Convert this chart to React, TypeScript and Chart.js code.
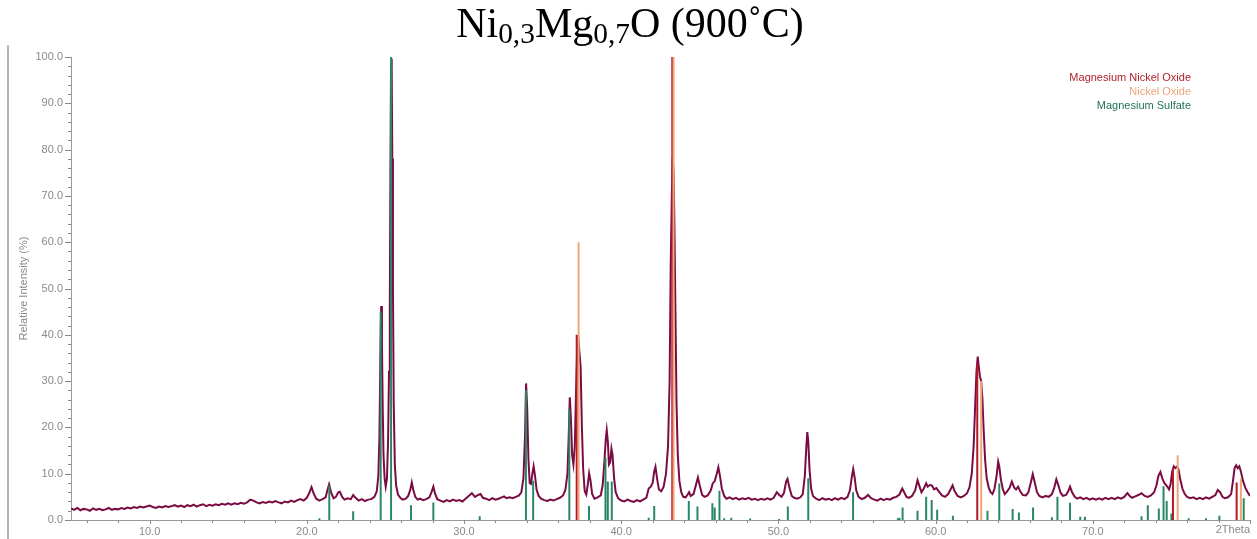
import React, { useEffect, useRef } from "react";
import { Chart, registerables } from "chart.js";

Chart.register(...registerables);

// Measured diffraction trace (2Theta, relative intensity %)
const trace1: [number, number][] = [
  [5.0, 2.5], [5.2, 2.2], [5.4, 2.6], [5.6, 2.1], [5.8, 2.4], [6.0, 2.3], [6.2, 2.0], [6.4, 2.5], [6.6, 2.2], [6.8, 2.4],
  [7.0, 2.1], [7.2, 2.3], [7.4, 2.6], [7.6, 2.2], [7.8, 2.4], [8.0, 2.3], [8.2, 2.6], [8.4, 2.4], [8.6, 2.7], [8.8, 2.5],
  [9.0, 2.8], [9.2, 2.6], [9.4, 2.9], [9.6, 2.7], [9.8, 2.9], [10.0, 3.1], [10.2, 2.8], [10.4, 2.6], [10.6, 2.9], [10.8, 2.7],
  [11.0, 3.0], [11.2, 2.8], [11.4, 3.0], [11.6, 3.2], [11.8, 2.9], [12.0, 3.1], [12.2, 2.8], [12.4, 3.2], [12.6, 3.0], [12.8, 3.3],
  [13.0, 2.9], [13.2, 3.2], [13.4, 3.4], [13.6, 3.0], [13.8, 3.3], [14.0, 3.1], [14.2, 3.4], [14.4, 3.2], [14.6, 3.5], [14.8, 3.3],
  [15.0, 3.6], [15.2, 3.3], [15.4, 3.6], [15.6, 3.4], [15.8, 3.7], [16.0, 3.5], [16.2, 3.8], [16.4, 4.4], [16.6, 4.2], [16.8, 3.8],
  [17.0, 3.6], [17.2, 3.9], [17.4, 3.7], [17.6, 4.0], [17.8, 3.8], [18.0, 4.1], [18.2, 3.8], [18.4, 3.6], [18.6, 4.0], [18.8, 3.8],
  [19.0, 4.2], [19.2, 3.9], [19.4, 4.3], [19.6, 4.5], [19.8, 4.2], [20.0, 4.8], [20.15, 5.8], [20.3, 7.1], [20.45, 5.6], [20.6, 4.6],
  [20.8, 4.2], [21.0, 4.5], [21.2, 4.9], [21.3, 6.3], [21.42, 7.7], [21.55, 5.9], [21.7, 4.7], [21.85, 5.0], [22.0, 6.0], [22.1, 6.1],
  [22.25, 5.0], [22.4, 4.4], [22.6, 4.7], [22.8, 4.5], [22.95, 5.4], [23.1, 4.8], [23.3, 4.2], [23.5, 4.5], [23.7, 4.1], [23.9, 4.4],
  [24.1, 4.5], [24.3, 5.0], [24.45, 6.2], [24.55, 9.5], [24.62, 18], [24.68, 35], [24.73, 46.2], [24.78, 38], [24.83, 24], [24.88, 14],
  [24.95, 9], [25.02, 7.2], [25.1, 9], [25.17, 17], [25.23, 32], [25.28, 45], [25.32, 75], [25.36, 99.6], [25.4, 97], [25.44, 78],
  [25.48, 50], [25.53, 25], [25.6, 12], [25.68, 7.5], [25.8, 5.5], [25.95, 4.8], [26.1, 4.4], [26.3, 4.6], [26.45, 5.2], [26.58, 6.5],
  [26.68, 8.1], [26.78, 6.4], [26.9, 5.0], [27.05, 4.4], [27.2, 4.6], [27.4, 4.3], [27.6, 4.5], [27.8, 4.9], [27.95, 6.2], [28.05, 7.2],
  [28.15, 5.8], [28.3, 4.5], [28.5, 4.2], [28.7, 3.9], [28.9, 4.3], [29.1, 4.0], [29.3, 4.4], [29.5, 4.1], [29.7, 4.3], [29.9, 4.0],
];

const trace2: [number, number][] = [
  [30.1, 4.6], [30.3, 5.2], [30.5, 5.8], [30.7, 5.0], [30.9, 5.4], [31.05, 5.6], [31.2, 4.8], [31.4, 4.6], [31.6, 4.3], [31.8, 4.7],
  [32.0, 4.4], [32.2, 4.6], [32.4, 4.9], [32.55, 5.1], [32.7, 4.7], [32.9, 4.9], [33.1, 4.7], [33.3, 5.0], [33.5, 5.3], [33.65, 6.0],
  [33.78, 9], [33.88, 18], [33.95, 29.5], [34.02, 24], [34.1, 13], [34.18, 8], [34.26, 7.8], [34.35, 10], [34.43, 11.6], [34.52, 9.5],
  [34.62, 6.5], [34.75, 5.2], [34.9, 4.6], [35.1, 4.3], [35.3, 4.1], [35.5, 4.4], [35.7, 4.2], [35.9, 4.5], [36.1, 4.8], [36.3, 5.3],
  [36.45, 6.5], [36.58, 10], [36.66, 18], [36.73, 26.5], [36.8, 22], [36.88, 14], [36.96, 12], [37.05, 16], [37.13, 28], [37.2, 37],
  [37.25, 40], [37.3, 38], [37.36, 35.5], [37.42, 33], [37.5, 20], [37.58, 11], [37.68, 6.2], [37.78, 5.5], [37.88, 7.8], [37.96, 10.1],
  [38.05, 8.5], [38.15, 5.6], [38.3, 4.6], [38.5, 4.9], [38.7, 5.3], [38.82, 7.5], [38.92, 12], [39.02, 17.5], [39.08, 19.4], [39.15, 17],
  [39.22, 12], [39.3, 12.5], [39.38, 15.4], [39.45, 14], [39.55, 9], [39.65, 6], [39.8, 4.7], [40.0, 4.2], [40.2, 4.0], [40.4, 4.4],
  [40.6, 4.1], [40.8, 3.9], [41.0, 4.3], [41.2, 4.0], [41.4, 4.4], [41.6, 4.8], [41.75, 6.8], [41.88, 7.2], [42.0, 8.0], [42.1, 10.5],
  [42.18, 11.5], [42.28, 9], [42.4, 6.6], [42.55, 6.2], [42.7, 7.2], [42.85, 10], [42.98, 16], [43.08, 30], [43.15, 55], [43.22, 70],
  [43.28, 78.4], [43.33, 75], [43.38, 65], [43.45, 45], [43.52, 25], [43.6, 14], [43.7, 8.5], [43.82, 6.0], [43.95, 5.0], [44.1, 4.9],
  [44.25, 5.6], [44.32, 6.0], [44.42, 5.2], [44.6, 5.6], [44.75, 7.5], [44.88, 9.2], [45.0, 7.4], [45.15, 5.4], [45.3, 5.0], [45.5, 5.3],
  [45.7, 6.4], [45.82, 7.9], [45.95, 8.4], [46.08, 10.0], [46.18, 11.4], [46.28, 9.6], [46.4, 6.8], [46.55, 5.2], [46.7, 4.6], [46.9, 4.9],
  [47.1, 4.5], [47.3, 4.8], [47.5, 4.4], [47.7, 4.7], [47.9, 4.5], [48.1, 4.8], [48.3, 4.4], [48.5, 4.6], [48.7, 4.3], [48.9, 4.6],
  [49.1, 4.4], [49.3, 4.7], [49.5, 4.4], [49.7, 4.8], [49.9, 6.0], [50.05, 5.4], [50.2, 5.0], [50.35, 5.8], [50.5, 8.4], [50.58, 8.9],
  [50.7, 7.0], [50.85, 5.2], [51.0, 4.8], [51.2, 4.6], [51.4, 4.9], [51.55, 5.6], [51.68, 9.5], [51.78, 16], [51.84, 19.0], [51.9, 17],
  [51.98, 11], [52.08, 6.8], [52.2, 5.2], [52.4, 4.6], [52.6, 4.3], [52.8, 4.7], [53.0, 4.4], [53.2, 4.6], [53.4, 4.3], [53.6, 4.7],
  [53.8, 4.4], [54.0, 4.8], [54.2, 4.5], [54.4, 5.0], [54.55, 6.4], [54.68, 9.5], [54.76, 11.0], [54.85, 9.2], [54.95, 6.4],
];

const trace3: [number, number][] = [
  [55.1, 5.0], [55.3, 4.5], [55.5, 4.8], [55.7, 5.4], [55.9, 4.7], [56.1, 4.4], [56.3, 4.2], [56.5, 4.6], [56.7, 4.3], [56.9, 4.6],
  [57.1, 4.4], [57.3, 4.8], [57.5, 5.0], [57.7, 5.5], [57.88, 6.8], [58.0, 6.0], [58.15, 5.0], [58.3, 4.8], [58.5, 5.2], [58.7, 6.4],
  [58.85, 8.6], [58.98, 7.2], [59.1, 6.0], [59.25, 6.8], [59.4, 7.9], [59.5, 7.2], [59.65, 7.6], [59.78, 7.4], [59.9, 6.6], [60.05, 6.9],
  [60.2, 6.2], [60.4, 5.3], [60.6, 5.0], [60.8, 5.6], [60.95, 6.6], [61.08, 7.5], [61.2, 6.3], [61.4, 5.2], [61.6, 4.9], [61.8, 5.2],
  [62.0, 5.8], [62.15, 7.0], [62.3, 10], [62.42, 16], [62.52, 25], [62.6, 32], [62.68, 35.3], [62.75, 33], [62.82, 31], [62.9, 30],
  [62.98, 26], [63.05, 20], [63.15, 13], [63.25, 9], [63.38, 7], [63.5, 6.0], [63.62, 5.6], [63.75, 6.8], [63.88, 9.5], [63.98, 12.6],
  [64.05, 11.6], [64.15, 8.8], [64.28, 6.6], [64.4, 5.6], [64.55, 6.2], [64.7, 6.9], [64.85, 8.3], [65.0, 7.0], [65.12, 6.6], [65.25, 7.2],
  [65.38, 6.2], [65.55, 5.4], [65.75, 5.3], [65.9, 6.0], [66.05, 8.0], [66.18, 9.9], [66.3, 8.2], [66.45, 6.0], [66.6, 5.2], [66.8, 4.9],
  [67.0, 5.2], [67.2, 5.0], [67.4, 5.6], [67.55, 7.0], [67.68, 8.8], [67.8, 7.6], [67.95, 5.9], [68.1, 5.2], [68.3, 5.4], [68.45, 6.3],
  [68.55, 7.2], [68.68, 6.0], [68.85, 5.0], [69.0, 4.6], [69.2, 4.9], [69.4, 4.5], [69.6, 4.8], [69.8, 4.4], [70.0, 4.7], [70.2, 4.4],
  [70.4, 4.7], [70.6, 4.4], [70.8, 4.8], [71.0, 4.5], [71.2, 4.8], [71.4, 4.5], [71.6, 4.9], [71.8, 4.6], [72.0, 5.0], [72.2, 5.8],
  [72.35, 5.2], [72.5, 4.8], [72.7, 5.1], [72.9, 5.4], [73.1, 5.8], [73.3, 5.2], [73.5, 5.0], [73.7, 5.3], [73.9, 6.0], [74.05, 7.5],
  [74.18, 9.6], [74.3, 10.4], [74.42, 9.0], [74.55, 8.0], [74.7, 7.4], [74.85, 6.6], [74.95, 7.8], [75.05, 10.5], [75.15, 11.6], [75.25, 11.2],
  [75.35, 11.5], [75.45, 11.0], [75.55, 9], [75.7, 6.8], [75.85, 5.6], [76.0, 5.0], [76.2, 4.7], [76.4, 4.9], [76.6, 4.5], [76.8, 4.8],
  [77.0, 4.5], [77.2, 4.9], [77.4, 4.6], [77.6, 5.0], [77.8, 5.4], [77.95, 6.5], [78.1, 6.0], [78.25, 5.0], [78.4, 4.7], [78.6, 4.9],
  [78.8, 5.6], [78.92, 8.5], [79.02, 11.2], [79.12, 11.8], [79.22, 11.2], [79.32, 11.6], [79.42, 10.5], [79.55, 8.5], [79.7, 7.0], [79.85, 6.0],
  [80.0, 5.2],
];

// Reference patterns (stick positions and relative intensities)
const mgNiOPos = [37.17, 43.25, 62.65, 75.1, 79.15];
const mgNiOInt = [40, 100, 34, 11.2, 8.1];

const niOPos = [37.29, 43.33, 62.9, 75.4, 79.42];
const niOInt = [60, 100, 30, 14, 9.0];

const mgSO4Pos = [
  20.8, 21.43, 22.95, 24.7, 25.36, 26.63, 28.05, 31.0, 33.94, 34.4, 36.7, 37.95, 39.0, 39.15, 39.4,
  41.75, 42.1, 44.3, 44.85, 45.8, 45.95, 46.25, 46.55, 47.0, 48.2, 50.05, 50.6, 51.9, 54.75,
  57.6, 57.7, 57.9, 58.85, 59.4, 59.75, 60.1, 61.1, 63.3, 64.05, 64.9, 65.3, 66.2, 67.4, 67.75, 68.55,
  69.2, 69.5, 73.1, 73.5, 74.2, 74.5, 74.7, 75.0, 76.1, 77.2, 78.05, 79.6,
];
const mgSO4Int = [
  0.4, 7.5, 1.9, 45, 100, 3.2, 3.8, 0.8, 28, 8.5, 24, 3.0, 13.5, 8.3, 8.3,
  0.5, 3.0, 4.1, 2.9, 3.6, 2.7, 6.3, 0.4, 0.5, 0.3, 0.2, 2.9, 9, 6.0,
  0.4, 0.5, 2.7, 2.0, 5.0, 4.3, 2.2, 0.9, 2.0, 7.9, 2.4, 1.6, 2.7, 0.6, 5.0, 3.7,
  0.7, 0.7, 0.8, 3.2, 2.5, 7.3, 4.1, 1.4, 0.4, 0.4, 0.9, 4.7,
];

const seriesNames = ["Magnesium Nickel Oxide", "Nickel Oxide", "Magnesium Sulfate"];
const seriesColors = ["#b0232c", "#eba57c", "#1f7356"];
const stickColors = ["#b31a28", "#f0a678", "#2a8766"];
const traceColor = "#7a0c43";

const xMin = 5;
const xMax = 80;
const yMin = 0;
const yMax = 100;

function sticks(pos: number[], h: number[]) {
  const out: { x: number; y: number | null }[] = [];
  pos.forEach((p, i) => {
    out.push({ x: p, y: 0 }, { x: p, y: h[i] }, { x: p, y: null });
  });
  return out;
}

const FONT = "'Liberation Sans', Arial, sans-serif";

const decorPlugin = {
  id: "decor",
  afterDraw(chart: any) {
    const ctx = chart.ctx as CanvasRenderingContext2D;
    const xs = chart.scales.x;
    const ys = chart.scales.y;
    const ca = chart.chartArea;
    ctx.save();
    ctx.strokeStyle = "#8a8a8a";
    ctx.lineWidth = 1;
    // y ticks
    for (let v = yMin; v <= yMax; v += 2) {
      const py = Math.round(ys.getPixelForValue(v)) + 0.5;
      const len = v % 10 === 0 ? 6 : 3;
      ctx.beginPath();
      ctx.moveTo(ca.left - len, py);
      ctx.lineTo(ca.left, py);
      ctx.stroke();
    }
    // x ticks
    for (let v = 6; v <= xMax; v += 2) {
      const px = Math.round(xs.getPixelForValue(v)) + 0.5;
      const len = v % 10 === 0 ? 4 : 3;
      ctx.beginPath();
      ctx.moveTo(px, ca.bottom);
      ctx.lineTo(px, ca.bottom + len);
      ctx.stroke();
    }
    // x axis unit label at the last tick
    ctx.fillStyle = "#8a8a8a";
    ctx.font = `11px ${FONT}`;
    ctx.textAlign = "right";
    ctx.textBaseline = "middle";
    ctx.fillText("2Theta", ca.right, ca.bottom + 10);
    // y axis title
    ctx.save();
    ctx.translate(24, (ca.top + ca.bottom) / 2);
    ctx.rotate(-Math.PI / 2);
    ctx.textAlign = "center";
    ctx.fillStyle = "#8a8a8a";
    ctx.fillText("Relative Intensity (%)", 0, 0);
    ctx.restore();
    // legend
    ctx.textAlign = "right";
    ctx.textBaseline = "middle";
    seriesNames.forEach((n, i) => {
      ctx.fillStyle = seriesColors[i];
      ctx.fillText(n, 1191, 78 + i * 14);
    });
    ctx.restore();
  },
};

export default function App() {
  const canvasRef = useRef<HTMLCanvasElement | null>(null);

  useEffect(() => {
    if (!canvasRef.current) return;
    const trace = [...trace1, ...trace2, ...trace3].map(([x, y]) => ({ x, y }));
    const chart = new Chart(canvasRef.current, {
      type: "line",
      data: {
        datasets: [
          {
            label: seriesNames[1],
            data: sticks(niOPos, niOInt),
            borderColor: stickColors[1],
            borderWidth: 2,
            pointRadius: 0,
            spanGaps: false,
            order: 0,
          },
          {
            label: seriesNames[0],
            data: sticks(mgNiOPos, mgNiOInt),
            borderColor: stickColors[0],
            borderWidth: 2,
            pointRadius: 0,
            spanGaps: false,
            order: 1,
          },
          {
            label: seriesNames[2],
            data: sticks(mgSO4Pos, mgSO4Int),
            borderColor: stickColors[2],
            borderWidth: 2,
            pointRadius: 0,
            spanGaps: false,
            order: 2,
          },
          {
            label: "Measured",
            data: trace,
            borderColor: traceColor,
            borderWidth: 2,
            pointRadius: 0,
            tension: 0,
            order: 3,
          },
        ],
      },
      options: {
        animation: false,
        responsive: true,
        maintainAspectRatio: false,
        layout: { padding: { top: 57, right: 7, bottom: 0, left: 0 } },
        plugins: {
          legend: { display: false },
          tooltip: { enabled: false },
          title: { display: false },
        },
        scales: {
          x: {
            type: "linear",
            min: xMin,
            max: xMax,
            afterFit: (s: any) => {
              s.height = 19;
            },
            border: { display: true, color: "#9a9a9a", width: 1 },
            grid: { display: true, drawOnChartArea: false, drawTicks: true, tickLength: 4, tickColor: "rgba(0,0,0,0)" },
            ticks: {
              stepSize: 2,
              autoSkip: false,
              maxRotation: 0,
              padding: 1,
              color: "#8a8a8a",
              font: { family: FONT, size: 11 },
              callback: (v: any) => {
                const n = Number(v);
                return n % 10 === 0 && n < xMax ? n.toFixed(1) : "";
              },
            },
          },
          y: {
            min: yMin,
            max: yMax,
            afterFit: (s: any) => {
              s.width = 71;
            },
            border: { display: true, color: "#9a9a9a", width: 1 },
            grid: { display: true, drawOnChartArea: false, drawTicks: true, tickLength: 6, tickColor: "rgba(0,0,0,0)" },
            ticks: {
              stepSize: 2,
              autoSkip: false,
              padding: 2,
              color: "#8a8a8a",
              font: { family: FONT, size: 11 },
              callback: (v: any) => {
                const n = Number(v);
                return n % 10 === 0 ? n.toFixed(1) : "";
              },
            },
          },
        },
      },
      plugins: [decorPlugin],
    });
    return () => chart.destroy();
  }, []);

  return (
    <div style={{ position: "fixed", left: 0, top: 0, width: 1257, height: 539, background: "#fff" }}>
      <div
        style={{
          position: "absolute",
          left: 0,
          width: 1257,
          top: 0,
          textAlign: "center",
          fontFamily: "'Liberation Serif', 'Times New Roman', serif",
          fontSize: 42,
          lineHeight: "46px",
          color: "#000",
          whiteSpace: "nowrap",
          zIndex: 2,
          paddingLeft: 3,
          boxSizing: "border-box",
        }}
      >
        Ni<sub style={{ fontSize: "0.7em", verticalAlign: "-0.2em", lineHeight: 0 }}>0,3</sub>Mg
        <sub style={{ fontSize: "0.7em", verticalAlign: "-0.2em", lineHeight: 0 }}>0,7</sub>O (900˚C)
      </div>
      <div style={{ position: "absolute", left: 7, top: 45, width: 2, height: 494, background: "#b4b4b4" }} />
      <canvas ref={canvasRef} style={{ position: "absolute", left: 0, top: 0, width: 1257, height: 539 }} />
    </div>
  );
}
